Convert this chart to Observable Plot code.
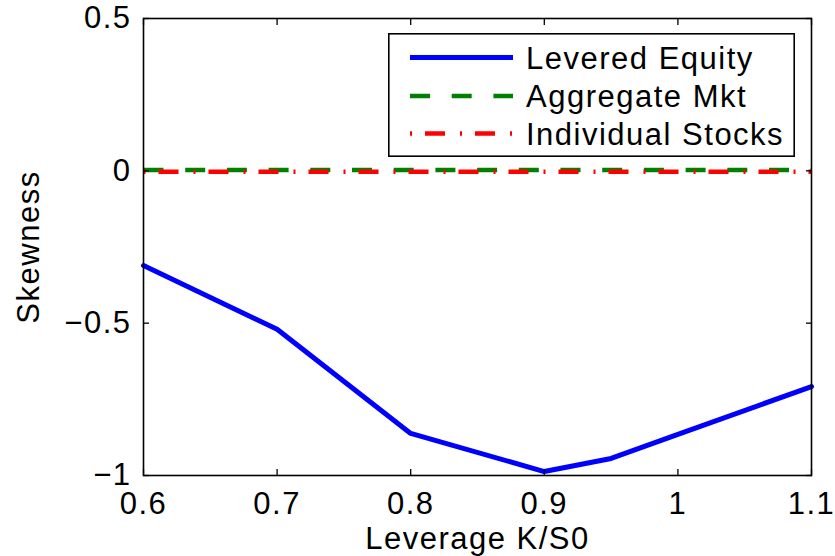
<!DOCTYPE html>
<html>
<head>
<meta charset="utf-8">
<script src="https://cdn.jsdelivr.net/npm/d3@7"></script>
<script src="https://cdn.jsdelivr.net/npm/@observablehq/plot@0.6"></script>
<style>
  html, body { margin: 0; padding: 0; background: #fff; }
  #wrap { position: relative; width: 835px; height: 556px; overflow: hidden; }
  #legend { position: absolute; left: 388px; top: 33px; }
  text { letter-spacing: 1.5px; }
</style>
</head>
<body>
<div id="wrap"></div>
<script>
// ---- data ----
const leverage = [0.6, 0.7, 0.8, 0.9, 0.95, 1.0, 1.1];
const leveredEquity = [-0.311, -0.52, -0.862, -0.987, -0.944, -0.865, -0.708];
const aggregateMkt = [0.003, 0.003, 0.003, 0.003, 0.003, 0.003, 0.003];
const individualStocks = [-0.003, -0.003, -0.003, -0.003, -0.003, -0.003, -0.003];
const xTicks = [0.6, 0.7, 0.8, 0.9, 1.0, 1.1];
const yTicks = [-1, -0.5, 0, 0.5];
const seriesNames = ["Levered Equity", "Aggregate Mkt", "Individual Stocks"];
const xLabel = "Leverage K/S0";
const yLabel = "Skewness";

const styles = [
  {stroke: "#0000ff", strokeWidth: 5, dash: null},
  {stroke: "#008000", strokeWidth: 4.5, dash: "20,21.7"},
  {stroke: "#ff0000", strokeWidth: 4.5, dash: "2,13,20,15"}
];
const rows = leverage.map((x, i) => ({x, e: leveredEquity[i], a: aggregateMkt[i], s: individualStocks[i]}));

const fmt = d => (d === 0 ? "0" : String(d).replace("-", "\u2212"));
const FONT = "Liberation Sans, Arial, Helvetica, sans-serif";
const FS = 31;

const chart = Plot.plot({
  width: 835,
  height: 556,
  marginLeft: 143,
  marginRight: 24,
  marginTop: 18,
  marginBottom: 81,
  style: {fontFamily: FONT, fontSize: FS + "px", color: "#000", background: "#fff"},
  x: {domain: [0.6, 1.1]},
  y: {domain: [-1, 0.5]},
  marks: [
    Plot.line(rows, {x: "x", y: "a", stroke: styles[1].stroke, strokeWidth: styles[1].strokeWidth, strokeDasharray: styles[1].dash, strokeLinecap: "butt"}),
    Plot.line(rows, {x: "x", y: "s", stroke: styles[2].stroke, strokeWidth: styles[2].strokeWidth, strokeDasharray: styles[2].dash, strokeLinecap: "butt"}),
    Plot.line(rows, {x: "x", y: "e", stroke: styles[0].stroke, strokeWidth: styles[0].strokeWidth, strokeLinejoin: "miter"}),
    // labels
    Plot.axisX(xTicks, {anchor: "bottom", tickSize: 0, tickPadding: 16, tickFormat: fmt, fontSize: FS, label: null}),
    Plot.axisY(yTicks, {anchor: "left", tickSize: 0, tickPadding: 12, tickFormat: fmt, fontSize: FS, label: null}),
    // inward ticks on all four sides
    Plot.axisX(xTicks, {anchor: "bottom", tickSize: -6, tickFormat: () => "", label: null, strokeWidth: 1.3}),
    Plot.axisX(xTicks, {anchor: "top", tickSize: -6, tickFormat: () => "", label: null, strokeWidth: 1.3}),
    Plot.axisY(yTicks, {anchor: "left", tickSize: -6, tickFormat: () => "", label: null, strokeWidth: 1.3}),
    Plot.axisY(yTicks, {anchor: "right", tickSize: -6, tickFormat: () => "", label: null, strokeWidth: 1.3}),
    Plot.frame({stroke: "#000", strokeWidth: 1.6}),
    Plot.text([xLabel], {frameAnchor: "bottom", dy: 73, lineAnchor: "bottom", textAnchor: "middle", fontSize: FS, fill: "#000"}),
    Plot.text([yLabel], {frameAnchor: "left", dx: -114, rotate: -90, textAnchor: "middle", fontSize: FS, fill: "#000"})
  ]
});
document.getElementById("wrap").appendChild(chart);

// ---- legend (inside the axes, top-right) ----
const lw = 407, lh = 124;
const leg = d3.select("#wrap").append("svg")
  .attr("id", "legend").attr("width", lw).attr("height", lh)
  .style("font-family", FONT);
leg.append("rect").attr("x", 0.8).attr("y", 0.8).attr("width", lw - 1.6).attr("height", lh - 1.6)
  .attr("fill", "#fff").attr("stroke", "#000").attr("stroke-width", 1.6);
const rowY = [24.5, 63, 100.5];
seriesNames.forEach((name, i) => {
  leg.append("line").attr("x1", 22).attr("x2", 125).attr("y1", rowY[i]).attr("y2", rowY[i])
    .attr("stroke", styles[i].stroke).attr("stroke-width", styles[i].strokeWidth)
    .attr("stroke-dasharray", styles[i].dash);
  leg.append("text").attr("x", 138).attr("y", rowY[i] + 11).attr("font-size", FS)
    .attr("fill", "#000").text(name);
});
</script>
</body>
</html>
